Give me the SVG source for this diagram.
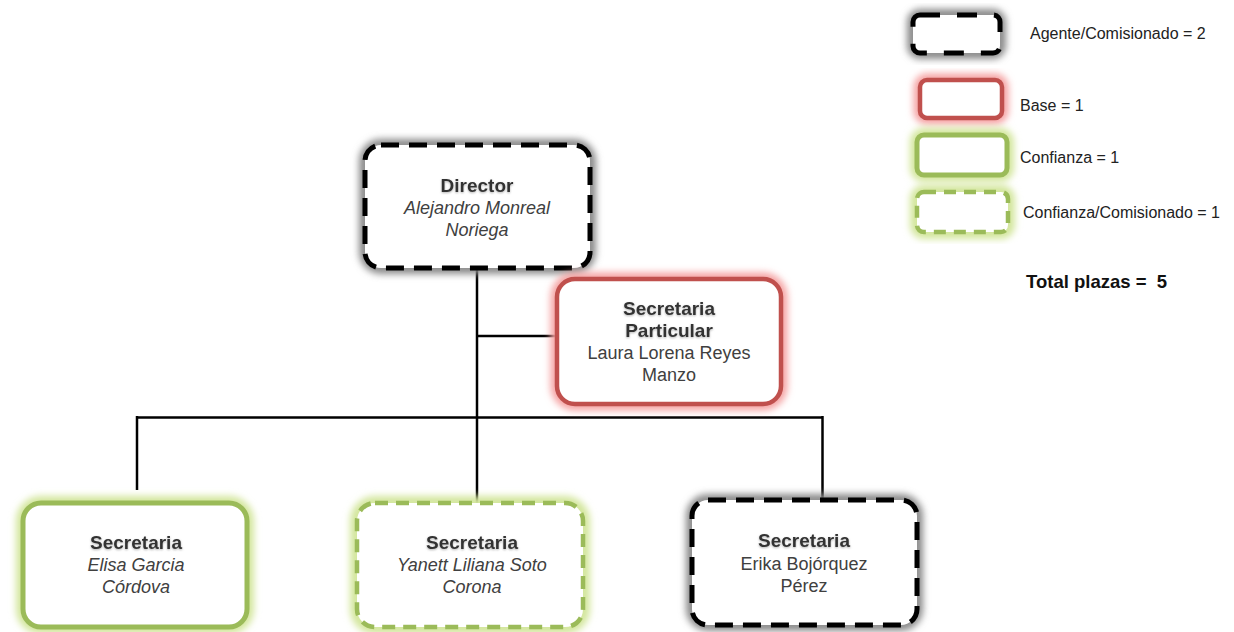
<svg xmlns="http://www.w3.org/2000/svg" width="1234" height="632" viewBox="0 0 1234 632">
  <defs>
    <filter id="glow" x="-20%" y="-30%" width="140%" height="160%">
      <feGaussianBlur stdDeviation="3.5"/>
    </filter>
    <filter id="tshadow" x="-10%" y="-40%" width="120%" height="180%">
      <feDropShadow dx="0" dy="1" stdDeviation="1.2" flood-color="#808080" flood-opacity="0.6"/>
    </filter>
    <style>
      .halo-k { fill: none; stroke: #8a8a8a; stroke-width: 12; }
      .halo-r { fill: none; stroke: #f5a3a3; stroke-width: 13; }
      .halo-g { fill: none; stroke: #d3e69c; stroke-width: 14; }
      .box { fill: #ffffff; }
      .agente { stroke: #000000; stroke-width: 5; stroke-dasharray: 18 10; }
      .base { stroke: #c0504d; stroke-width: 4.5; }
      .confianza { stroke: #9bbb59; stroke-width: 5; }
      .conf-com { stroke: #9bbb59; stroke-width: 4.5; stroke-dasharray: 13 8; }
      .title { font-family: "Liberation Sans", Arial, sans-serif; font-size: 19px; font-weight: bold; fill: #333333; text-anchor: middle; filter: url(#tshadow); }
      .name { font-family: "Liberation Sans", Arial, sans-serif; font-size: 18px; fill: #404040; text-anchor: middle; }
      .it { font-style: italic; }
      .legend { font-family: "Liberation Sans", Arial, sans-serif; font-size: 16px; fill: #222222; }
      .total { font-family: "Liberation Sans", Arial, sans-serif; font-size: 18.5px; font-weight: bold; fill: #111111; }
      .conn { fill: none; stroke: #000000; stroke-width: 2.5; }
    </style>
  </defs>

  <rect width="1234" height="632" fill="#ffffff"/>

  <!-- connectors -->
  <g id="connectors">
    <path class="conn" d="M477 270 V503"/>
    <path class="conn" d="M477 336 H557"/>
    <path class="conn" d="M137 417.5 H822.5"/>
    <path class="conn" d="M137 416 V490"/>
    <path class="conn" d="M822.5 416 V500"/>
  </g>

  <!-- Director -->
  <g id="director">
    <rect class="halo-k" x="365" y="145" width="225" height="123" rx="16" filter="url(#glow)"/>
    <rect class="box agente" x="365" y="145" width="225" height="123" rx="16"/>
    <text class="title" x="477" y="192">Director</text>
    <text class="name it" x="477" y="214">Alejandro Monreal</text>
    <text class="name it" x="477" y="236">Noriega</text>
  </g>

  <!-- Secretaria Particular -->
  <g id="secretaria-particular">
    <rect class="halo-r" x="557" y="279" width="224" height="125" rx="18" filter="url(#glow)"/>
    <rect class="box base" x="557" y="279" width="224" height="125" rx="18"/>
    <text class="title" x="669" y="315">Secretaria</text>
    <text class="title" x="669" y="337">Particular</text>
    <text class="name" x="669" y="359">Laura Lorena Reyes</text>
    <text class="name" x="669" y="381">Manzo</text>
  </g>

  <!-- Secretaria Elisa -->
  <g id="secretaria-elisa">
    <rect class="halo-g" x="23" y="503" width="224" height="124" rx="18" filter="url(#glow)"/>
    <rect class="box confianza" x="23" y="503" width="224" height="124" rx="18"/>
    <text class="title" x="136" y="549">Secretaria</text>
    <text class="name it" x="136" y="571">Elisa Garcia</text>
    <text class="name it" x="136" y="593">Córdova</text>
  </g>

  <!-- Secretaria Yanett -->
  <g id="secretaria-yanett">
    <rect class="halo-g" x="357" y="503" width="226" height="124" rx="18" filter="url(#glow)"/>
    <rect class="box conf-com" x="357" y="503" width="226" height="124" rx="18"/>
    <text class="title" x="472" y="549">Secretaria</text>
    <text class="name it" x="472" y="571">Yanett Liliana Soto</text>
    <text class="name it" x="472" y="593">Corona</text>
  </g>

  <!-- Secretaria Erika -->
  <g id="secretaria-erika">
    <rect class="halo-k" x="692" y="500" width="225" height="125" rx="16" filter="url(#glow)"/>
    <rect class="box agente" x="692" y="500" width="225" height="125" rx="16"/>
    <text class="title" x="804" y="547">Secretaria</text>
    <text class="name" x="804" y="570">Erika Bojórquez</text>
    <text class="name" x="804" y="592">Pérez</text>
  </g>

  <!-- legend -->
  <g id="legend">
    <rect class="halo-k" x="913" y="15" width="87" height="38" rx="7" filter="url(#glow)"/>
    <rect class="box agente" x="913" y="15" width="87" height="38" rx="7" style="stroke-dasharray: 20 17"/>
    <text class="legend" x="1030" y="39">Agente/Comisionado = 2</text>

    <rect class="halo-r" x="920" y="80" width="82" height="38" rx="7" filter="url(#glow)"/>
    <rect class="box base" x="920" y="80" width="82" height="38" rx="7"/>
    <text class="legend" x="1020" y="111">Base = 1</text>

    <rect class="halo-g" x="917" y="135" width="90" height="40" rx="7" filter="url(#glow)"/>
    <rect class="box confianza" x="917" y="135" width="90" height="40" rx="7"/>
    <text class="legend" x="1020" y="163">Confianza = 1</text>

    <rect class="halo-g" x="917" y="192" width="91" height="40" rx="7" filter="url(#glow)"/>
    <rect class="box conf-com" x="917" y="192" width="91" height="40" rx="7" style="stroke-dasharray: 12 8"/>
    <text class="legend" x="1023" y="218">Confianza/Comisionado = 1</text>

    <text class="total" x="1026" y="288" xml:space="preserve">Total plazas =  5</text>
  </g>
</svg>
